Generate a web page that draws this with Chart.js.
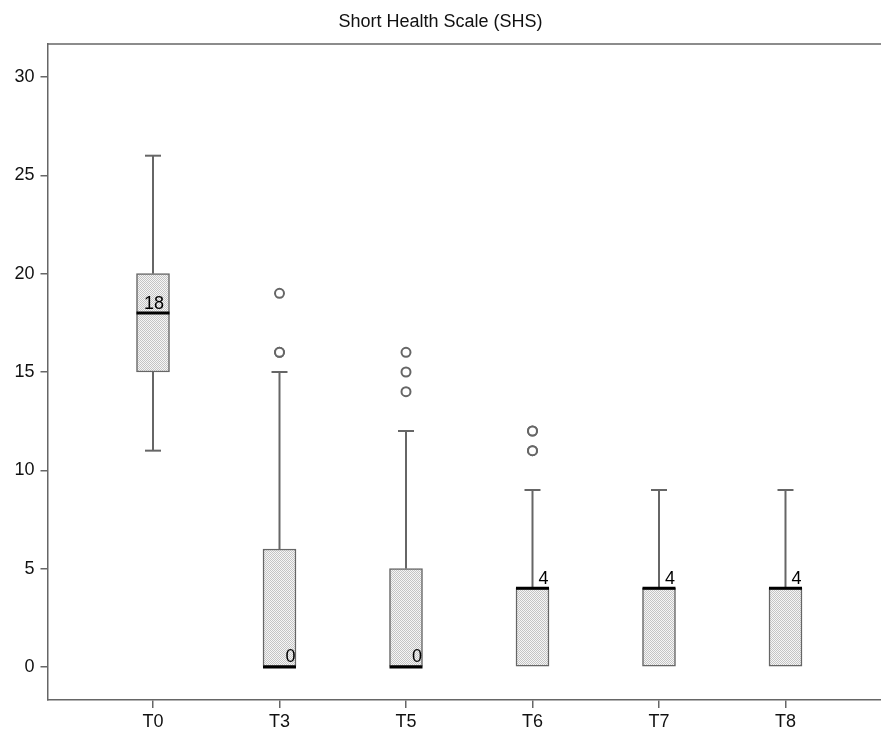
<!DOCTYPE html>
<html>
<head>
<meta charset="utf-8">
<script src="https://cdn.jsdelivr.net/npm/chart.js@4.4.1/dist/chart.umd.min.js"></script>
<style>
    body { margin: 0; background: #fff; }
    #wrap { width: 881px; height: 734px; }
</style>
</head>
<body>
<div id="wrap"><canvas id="shsChart"></canvas></div>
<script>
// ======================================================
// Data
// ======================================================
const categories = ['T0', 'T3', 'T5', 'T6', 'T7', 'T8'];
const whiskerLow  = [11, 0, 0, 0, 0, 0];
const q1Values    = [15, 0, 0, 0, 0, 0];
const medians     = [18, 0, 0, 4, 4, 4];
const q3Values    = [20, 6, 5, 4, 4, 4];
const whiskerHigh = [26, 15, 12, 9, 9, 9];
// outliers per category (duplicates drawn twice, like SPSS)
const outliers    = [[], [16, 16, 19], [14, 15, 16], [11, 11, 12, 12], [], []];
const yTicks      = [0, 5, 10, 15, 20, 25, 30];

const LINE = '#666666';
const BOX_W = 33;

// checkered fill for boxes
function makePattern() {
    const c = document.createElement('canvas');
    c.width = 2; c.height = 2;
    const g = c.getContext('2d');
    g.fillStyle = '#f6f6f6';
    g.fillRect(0, 0, 2, 2);
    g.fillStyle = '#c4c4c4';
    g.fillRect(0, 0, 1, 1);
    g.fillRect(1, 1, 1, 1);
    return g.createPattern(c, 'repeat');
}

// ======================================================
// Box plot extras: whiskers, medians, labels, frame
// ======================================================
const boxPlotPlugin = {
    id: 'boxPlotExtras',
    beforeDatasetsDraw(chart) {
        const ctx = chart.ctx;
        const x = chart.scales.x, y = chart.scales.y;
        ctx.save();
        ctx.strokeStyle = LINE;
        ctx.lineWidth = 2;
        categories.forEach((c, i) => {
            const cx = x.getPixelForValue(i);
            const segs = [[q3Values[i], whiskerHigh[i]], [q1Values[i], whiskerLow[i]]];
            segs.forEach(([from, to]) => {
                if (from === to) return;
                ctx.beginPath();
                ctx.moveTo(cx, y.getPixelForValue(from));
                ctx.lineTo(cx, y.getPixelForValue(to));
                ctx.stroke();
                ctx.beginPath();
                ctx.moveTo(cx - 8, y.getPixelForValue(to));
                ctx.lineTo(cx + 8, y.getPixelForValue(to));
                ctx.stroke();
            });
        });
        ctx.restore();
    },
    afterDatasetsDraw(chart) {
        const ctx = chart.ctx;
        const x = chart.scales.x, y = chart.scales.y;
        const area = chart.chartArea;
        ctx.save();
        // top frame line
        ctx.strokeStyle = LINE;
        ctx.lineWidth = 1.5;
        ctx.beginPath();
        ctx.moveTo(area.left, area.top);
        ctx.lineTo(area.right, area.top);
        ctx.stroke();

        categories.forEach((c, i) => {
            const cx = x.getPixelForValue(i);
            const my = y.getPixelForValue(medians[i]);
            // median line
            ctx.strokeStyle = '#000';
            ctx.lineWidth = 3;
            ctx.beginPath();
            ctx.moveTo(cx - BOX_W / 2, my);
            ctx.lineTo(cx + BOX_W / 2, my);
            ctx.stroke();
            // median label
            const label = String(medians[i]);
            ctx.fillStyle = '#000';
            ctx.font = '18px "Liberation Sans", Arial, sans-serif';
            ctx.textBaseline = 'alphabetic';
            if (label.length > 1) {
                ctx.textAlign = 'center';
                ctx.fillText(label, cx + 1, my - 4.5);
            } else {
                ctx.textAlign = 'right';
                ctx.fillText(label, cx + BOX_W / 2 - 0.5, my - 4.5);
            }
        });
        ctx.restore();
    }
};

// ======================================================
// Chart
// ======================================================
Chart.defaults.font.family = '"Liberation Sans", Arial, sans-serif';
Chart.defaults.color = '#111';

const boxData = categories.map((c, i) => ({ x: i, y: [q1Values[i], q3Values[i]] }));
const outlierData = [];
outliers.forEach((list, i) => list.forEach(v => outlierData.push({ x: i, y: v })));

new Chart(document.getElementById('shsChart').getContext('2d'), {
    type: 'bar',
    data: {
        datasets: [{
            label: 'box',
            data: boxData,
            backgroundColor: makePattern(),
            borderColor: LINE,
            borderWidth: 1.5,
            borderSkipped: false,
            barThickness: BOX_W
        }, {
            type: 'scatter',
            label: 'outliers',
            data: outlierData,
            pointStyle: 'circle',
            pointRadius: 4.5,
            pointBorderWidth: 2,
            pointBorderColor: LINE,
            pointBackgroundColor: '#fff'
        }]
    },
    options: {
        responsive: true,
        maintainAspectRatio: false,
        animation: false,
        layout: { autoPadding: false, padding: { left: 0, right: 0, top: 0, bottom: 0 } },
        plugins: {
            legend: { display: false },
            tooltip: { enabled: false },
            title: {
                display: true,
                text: 'Short Health Scale (SHS)',
                color: '#111',
                font: { size: 18, weight: 'normal' },
                padding: { top: 11, bottom: 11.4 }
            }
        },
        scales: {
            x: {
                type: 'linear',
                offset: false,
                min: -0.834,
                max: 5.755,
                afterBuildTicks: axis => { axis.ticks = categories.map((c, i) => ({ value: i })); },
                afterFit: axis => { axis.height = 34; },
                ticks: {
                    callback: v => categories[v],
                    font: { size: 18 },
                    color: '#111',
                    padding: 3,
                    maxRotation: 0
                },
                grid: {
                    offset: false,
                    drawOnChartArea: false,
                    drawTicks: true,
                    tickLength: 8,
                    color: LINE,
                    lineWidth: 1.5
                },
                border: { display: true, color: LINE, width: 1.5 }
            },
            y: {
                min: -1.68,
                max: 31.68,
                afterBuildTicks: axis => { axis.ticks = yTicks.map(v => ({ value: v })); },
                afterFit: axis => { axis.width = 47.5; },
                ticks: {
                    font: { size: 18 },
                    color: '#111',
                    padding: 6
                },
                grid: {
                    drawOnChartArea: false,
                    drawTicks: true,
                    tickLength: 7,
                    color: LINE,
                    lineWidth: 1.5
                },
                border: { display: true, color: LINE, width: 1.5 }
            }
        }
    },
    plugins: [boxPlotPlugin]
});
</script>
</body>
</html>
